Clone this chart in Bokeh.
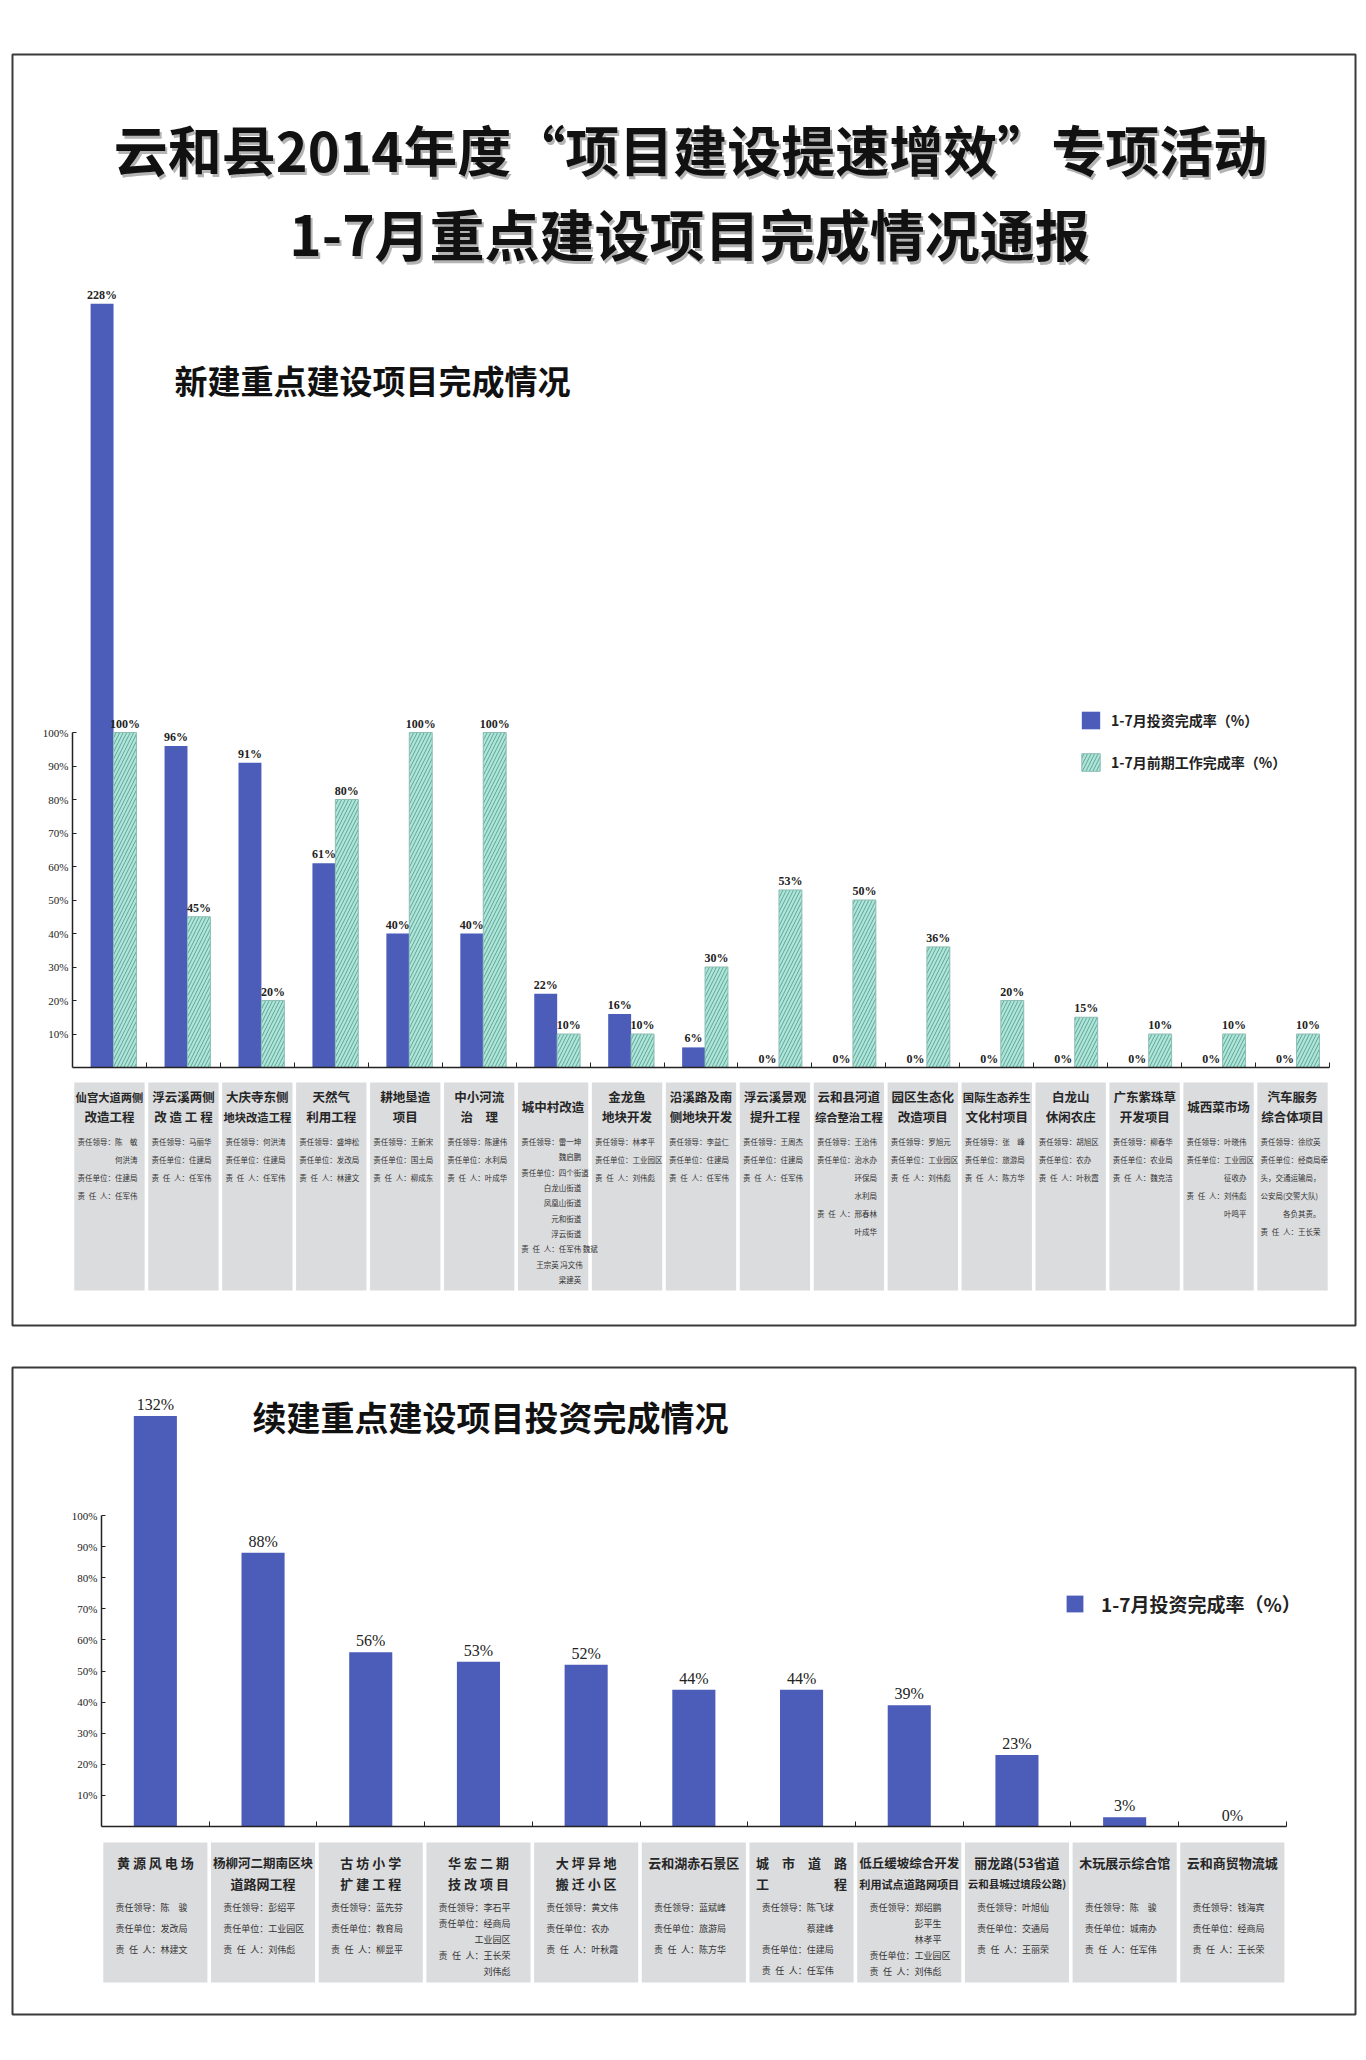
from bokeh.plotting import figure
from bokeh.models import (LinearAxis, FixedTicker, PrintfTickFormatter, Range1d,
                          Legend, LegendItem, ColumnDataSource)
from bokeh.layouts import column
from bokeh.core.properties import value
from bokeh.embed import file_html
from bokeh.resources import INLINE

# ------------------------------------------------------------------ data
main_title = ["云和县2014年度“项目建设提速增效”专项活动", "1-7月重点建设项目完成情况通报"]

new_title = "新建重点建设项目完成情况"
new_projects = ["仙宫大道两侧\n改造工程", "浮云溪两侧\n改 造 工 程", "大庆寺东侧\n地块改造工程",
                "天然气\n利用工程", "耕地垦造\n项目", "中小河流\n治　理", "城中村改造",
                "金龙鱼\n地块开发", "沿溪路及南\n侧地块开发", "浮云溪景观\n提升工程",
                "云和县河道\n综合整治工程", "园区生态化\n改造项目", "国际生态养生\n文化村项目",
                "白龙山\n休闲农庄", "广东紫珠草\n开发项目", "城西菜市场", "汽车服务\n综合体项目"]
new_invest_rate = [228, 96, 91, 61, 40, 40, 22, 16, 6, 0, 0, 0, 0, 0, 0, 0, 0]
new_prep_rate = [100, 45, 20, 80, 100, 100, 10, 10, 30, 53, 50, 36, 20, 15, 10, 10, 10]
new_leaders = ["陈　敏/何洪涛", "马丽华", "何洪涛", "盛坤松", "王新宋", "陈建伟", "雷一坤/魏启鹏",
               "林孝平", "李益仁", "王周杰", "王治伟", "罗旭元", "张　峰", "胡旭区", "柳春华",
               "叶晓伟", "徐欣英"]
new_units = ["住建局", "住建局", "住建局", "发改局", "国土局", "水利局",
             "四个街道/白龙山街道/凤凰山街道/元和街道/浮云街道", "工业园区", "住建局", "住建局",
             "治水办/环保局/水利局", "工业园区", "旅游局", "农办", "农业局", "工业园区/征收办",
             "经商局牵/头，交通运输局，/公安局(交警大队)/各负其责。"]
new_persons = ["任军伟", "任军伟", "任军伟", "林建文", "柳成东", "叶成华",
               "任军伟 魏斌/王宗英 冯文伟/梁建英", "刘伟彪", "任军伟", "任军伟", "邢春林/叶成华",
               "刘伟彪", "陈方华", "叶秋霞", "魏克洁", "刘伟彪/叶鸣平", "王长荣"]

cont_title = "续建重点建设项目投资完成情况"
cont_projects = ["黄 源 风 电 场", "杨柳河二期南区块\n道路网工程", "古 坊 小 学\n扩 建 工 程",
                 "华 宏 二 期\n技 改 项 目", "大 坪 异 地\n搬 迁 小 区", "云和湖赤石景区",
                 "城　市　道　路\n工　　　　　程", "低丘缓坡综合开发\n利用试点道路网项目",
                 "丽龙路(53省道\n云和县城过境段公路)", "木玩展示综合馆", "云和商贸物流城"]
cont_invest_rate = [132, 88, 56, 53, 52, 44, 44, 39, 23, 3, 0]
cont_leaders = ["陈　骏", "彭绍平", "蓝先芬", "李石平", "黄文伟", "蓝斌峰", "陈飞球/蔡建峰",
                "郑绍鹏/彭平生/林孝平", "叶旭仙", "陈　骏", "钱海宾"]
cont_units = ["发改局", "工业园区", "教育局", "经商局/工业园区", "农办", "旅游局", "住建局",
              "工业园区", "交通局", "城南办", "经商局"]
cont_persons = ["林建文", "刘伟彪", "柳显平", "王长荣/刘伟彪", "叶秋霞", "陈方华", "任军伟",
                "刘伟彪", "王丽荣", "任军伟", "王长荣"]

legend_invest = "1-7月投资完成率（%）"
legend_prep = "1-7月前期工作完成率（%）"
pct_ticks = [10, 20, 30, 40, 50, 60, 70, 80, 90, 100]

# ------------------------------------------------------------------ style
BLUE = "#4b5cb9"
TEAL = "#aee6da"
BOX = "#dbdcde"
CJK = "Noto Sans CJK SC"
SERIF = "Liberation Serif"
ORIGIN = 1          # page pixel where the canvas starts (observed)


def em_width(s):
    w = 0.0
    for ch in s:
        if ch == " ":
            w += 0.3
        elif ord(ch) < 0x2E80:
            w += 0.55
        else:
            w += 1.0
    return w


class Mapper:
    """page pixel -> data coordinates for one panel"""
    def __init__(self, axis_x, cat_px, base_y, pct_px):
        self.axis_x, self.cat_px, self.base_y, self.pct_px = axis_x, cat_px, base_y, pct_px

    def x(self, px):
        return (px - self.axis_x) / self.cat_px

    def y(self, py):
        return (self.base_y - py) / self.pct_px


def make_panel(m, canvas_top, frame_top, frame_bottom, pad_bottom):
    frame_left, frame_right = 13, 1356
    height = (frame_top - canvas_top) + (frame_bottom - frame_top) + pad_bottom
    p = figure(width=frame_right + 2 - ORIGIN, height=height,
               x_range=Range1d(m.x(frame_left), m.x(frame_right)),
               y_range=Range1d(m.y(frame_bottom), m.y(frame_top)),
               x_axis_location=None, y_axis_location=None,
               toolbar_location=None, output_backend="svg",
               min_border_left=frame_left - ORIGIN, min_border_right=2,
               min_border_top=frame_top - canvas_top, min_border_bottom=pad_bottom,
               outline_line_color="#3a3a3a", outline_line_width=2,
               background_fill_color="white", border_fill_color="white")
    p.grid.visible = False
    return p


def add_axes(p, n):
    yax = LinearAxis(fixed_location=0, bounds=(0, 100), ticker=FixedTicker(ticks=pct_ticks),
                     formatter=PrintfTickFormatter(format="%d%%"),
                     major_tick_in=4, major_tick_out=0, minor_tick_line_color=None,
                     axis_line_color="#222222", axis_line_width=1.5,
                     major_tick_line_color="#222222",
                     major_label_text_font=SERIF, major_label_text_font_size="11px",
                     major_label_text_color="#222222", major_label_standoff=4)
    p.add_layout(yax, "left")
    xax = LinearAxis(fixed_location=0, bounds=(0, n), ticker=FixedTicker(ticks=list(range(1, n + 1))),
                     major_tick_in=5, major_tick_out=0, minor_tick_line_color=None,
                     axis_line_color="#222222", axis_line_width=1.5,
                     major_tick_line_color="#222222", major_label_text_color=None)
    p.add_layout(xax, "below")


def add_label_boxes(p, m, projects, leaders, units, persons, box_top, box_bottom,
                    title_rows, single_row, title_max_px, title_size,
                    detail_size, detail_pad, detail_start, detail_step, detail_end):
    n = len(projects)
    gap = 1.8 / m.cat_px
    p.quad(left=[i + gap for i in range(n)], right=[i + 1 - gap for i in range(n)],
           top=m.y(box_top), bottom=m.y(box_bottom), fill_color=BOX, line_color=None)
    groups = {}
    for i, name in enumerate(projects):
        rows = name.split("\n")
        ys = title_rows if len(rows) > 1 else [single_row]
        for r, yy in zip(rows, ys):
            size = min(title_size, title_max_px / em_width(r))
            key = round(size, 1)
            g = groups.setdefault(key, dict(x=[], y=[], t=[]))
            g["x"].append(i + 0.5)
            g["y"].append(m.y(yy))
            g["t"].append(r)
    for size, g in groups.items():
        p.text(x=g["x"], y=g["y"], text=g["t"], text_font=value(CJK), text_font_style="bold",
               text_font_size=f"{size}px", text_align="center", text_baseline="middle",
               text_color="#262626")
    max_em = (m.cat_px - 2 * detail_pad) / detail_size
    dx, dy, dt = [], [], []
    for i in range(n):
        lines = []
        for prefix, val in (("责任领导：", leaders[i]), ("责任单位：", units[i]),
                            ("责\u2002任\u2002人：", persons[i])):
            parts = val.split("/")
            lines.append(prefix + parts[0])
            for part in parts[1:]:
                ind = int(max(0, min(5, max_em - em_width(part))))
                lines.append("\u3000" * ind + part)
        step = detail_step
        if len(lines) > 1:
            step = min(detail_step, (detail_end - detail_start) / (len(lines) - 1))
        for k, ln in enumerate(lines):
            dx.append(i + detail_pad / m.cat_px)
            dy.append(m.y(detail_start + k * step))
            dt.append(ln)
    p.text(x=dx, y=dy, text=dt, text_font=value(CJK), text_font_size=f"{detail_size}px",
           text_align="left", text_baseline="middle", text_color="#333333")


def big_text(p, x, y, txt, size, align, shadow=True):
    if shadow:
        p.text(x=[x], y=[y], text=[txt], text_font=value(CJK), text_font_style="bold",
               text_font_size=f"{size}px", text_align=align, text_baseline="middle",
               text_color="#b4b4b4", x_offset=2, y_offset=3)
    p.text(x=[x], y=[y], text=[txt], text_font=value(CJK), text_font_style="bold",
           text_font_size=f"{size}px", text_align=align, text_baseline="middle",
           text_color="#111111")


# ------------------------------------------------------------------ top panel
mt = Mapper(axis_x=73, cat_px=73.94, base_y=1068, pct_px=3.35)
p1 = make_panel(mt, canvas_top=ORIGIN, frame_top=55, frame_bottom=1326, pad_bottom=2)
n1 = len(new_projects)

big_text(p1, mt.x(691), mt.y(149), main_title[0], 54, "center")
big_text(p1, mt.x(690), mt.y(232), main_title[1], 55, "center")
big_text(p1, mt.x(175), mt.y(380), new_title, 33, "left", shadow=False)

add_axes(p1, n1)

src1 = ColumnDataSource(dict(
    x_inv=[i + 0.5 - 0.10 for i in range(n1)],
    x_prep=[i + 0.5 + 0.21 for i in range(n1)],
    inv=new_invest_rate, prep=new_prep_rate,
    inv_lbl=[f"{v}%" for v in new_invest_rate],
    prep_lbl=[f"{v}%" for v in new_prep_rate]))
r_inv = p1.vbar(x="x_inv", top="inv", bottom=0, width=0.31, source=src1,
                fill_color=BLUE, line_color=None)
r_prep = p1.vbar(x="x_prep", top="prep", bottom=0, width=0.31, source=src1,
                 fill_color=TEAL, line_color="#8dbdb3", line_width=1,
                 hatch_pattern="/", hatch_color="#5a9a8f", hatch_scale=7, hatch_weight=0.9)
for xf, yf, tf in (("x_inv", "inv", "inv_lbl"), ("x_prep", "prep", "prep_lbl")):
    p1.text(x=xf, y=yf, text=tf, source=src1, text_font=value(SERIF), text_font_style="bold",
            text_font_size="12px", text_align="center", text_baseline="bottom",
            y_offset=-2, text_color="#222222")

leg1 = Legend(items=[LegendItem(label=legend_invest, renderers=[r_inv]),
                     LegendItem(label=legend_prep, renderers=[r_prep])],
              location=(1080 - 13, 1326 - 774), padding=0, margin=0, spacing=20,
              glyph_width=23, glyph_height=22, label_standoff=9,
              label_text_font=CJK, label_text_font_style="bold", label_text_font_size="14px",
              label_text_color="#222222", background_fill_alpha=0, border_line_color=None)
p1.add_layout(leg1)

add_label_boxes(p1, mt, new_projects, new_leaders, new_units, new_persons,
                box_top=1083, box_bottom=1291, title_rows=[1097, 1117], single_row=1107,
                title_max_px=68, title_size=12.5, detail_size=7.5, detail_pad=5,
                detail_start=1142, detail_step=18, detail_end=1280)

# ------------------------------------------------------------------ bottom panel
mb = Mapper(axis_x=102, cat_px=107.7, base_y=1827, pct_px=3.11)
p2 = make_panel(mb, canvas_top=ORIGIN + p1.height, frame_top=1368, frame_bottom=2015, pad_bottom=3)
n2 = len(cont_projects)

big_text(p2, mb.x(253), mb.y(1417), cont_title, 34, "left", shadow=False)
add_axes(p2, n2)

src2 = ColumnDataSource(dict(x=[i + 0.5 for i in range(n2)], inv=cont_invest_rate,
                             lbl=[f"{v}%" for v in cont_invest_rate]))
r_inv2 = p2.vbar(x="x", top="inv", bottom=0, width=0.40, source=src2,
                 fill_color=BLUE, line_color=None)
p2.text(x="x", y="inv", text="lbl", source=src2, text_font=value(SERIF),
        text_font_size="16px", text_align="center", text_baseline="bottom",
        y_offset=-3, text_color="#222222")

leg2 = Legend(items=[LegendItem(label=legend_invest, renderers=[r_inv2])],
              location=(1065 - 13, 2015 - 1618), padding=0, margin=0,
              glyph_width=21, glyph_height=21, label_standoff=16,
              label_text_font=CJK, label_text_font_style="bold", label_text_font_size="19px",
              label_text_color="#222222", background_fill_alpha=0, border_line_color=None)
p2.add_layout(leg2)

add_label_boxes(p2, mb, cont_projects, cont_leaders, cont_units, cont_persons,
                box_top=1843, box_bottom=1983, title_rows=[1863, 1884], single_row=1863,
                title_max_px=100, title_size=13, detail_size=9, detail_pad=14,
                detail_start=1908, detail_step=21, detail_end=1972)

page = column(p1, p2, spacing=0)
open("out.html", "w").write(file_html(page, INLINE))
